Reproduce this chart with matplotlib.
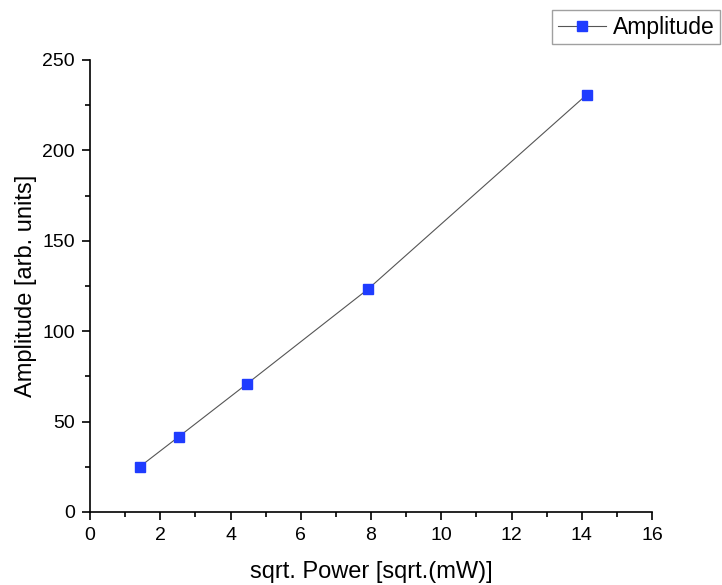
import matplotlib
matplotlib.use("Agg")
import matplotlib.pyplot as plt
from matplotlib.ticker import MultipleLocator

plt.rcParams['font.family'] = ['Liberation Sans', 'DejaVu Sans']

x_vals = [1.414, 2.53, 4.47, 7.91, 14.14]
amplitude = [25.0, 41.7, 70.9, 123.2, 230.8]
series_label = "Amplitude"

fig = plt.figure(figsize=(7.22, 5.85), dpi=100)
ax = fig.add_axes([90/722, 73/585, 562/722, 452/585])

ax.plot(x_vals, amplitude, '-', color='#555555', lw=0.8, marker='s',
        markersize=7.5, markerfacecolor='#1f3cff', markeredgecolor='#1f3cff',
        label=series_label)

ax.set_xlim(0, 16)
ax.set_ylim(0, 250)
ax.xaxis.set_major_locator(MultipleLocator(2))
ax.xaxis.set_minor_locator(MultipleLocator(1))
ax.yaxis.set_major_locator(MultipleLocator(50))
ax.yaxis.set_minor_locator(MultipleLocator(25))
for s in ['top', 'right']:
    ax.spines[s].set_visible(False)
for s in ['left', 'bottom']:
    ax.spines[s].set_linewidth(1.2)
ax.tick_params(which='major', direction='out', length=6, width=1.2, labelsize=14, pad=5)
ax.tick_params(which='minor', direction='out', length=3.5, width=1.2)
ax.set_xlabel("sqrt. Power [sqrt.(mW)]", fontsize=17, labelpad=12)
ax.set_ylabel("Amplitude [arb. units]", fontsize=17, labelpad=4)

leg = fig.legend(loc='upper left', bbox_to_anchor=(552/722, 1 - 10/585),
                 fontsize=16.5, frameon=True, fancybox=False, borderpad=0.25,
                 borderaxespad=0, handlelength=2.1, handletextpad=0.3)
leg.get_frame().set_edgecolor('#888888')
leg.get_frame().set_linewidth(1.0)

fig.savefig("out.png", dpi=100)
